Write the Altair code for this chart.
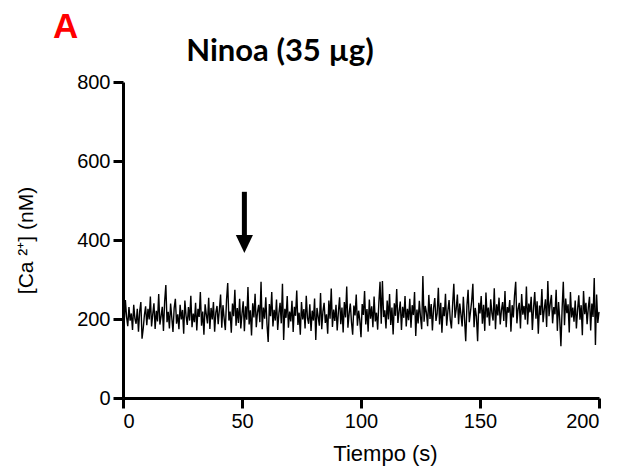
import altair as alt
import pandas as pd

# Cytosolic calcium trace, sampled every 0.5 s from 0 to 200 s
step_s = 0.5
calcium_nM = [
    225, 190, 248, 205, 182, 230, 196, 214, 172, 236, 201, 188, 226, 168, 219, 243, 150, 176, 210, 232,
    184, 226, 199, 257, 181, 212, 240, 175, 221, 194, 263, 186, 207, 231, 170, 244, 286, 192, 218, 176,
    239, 203, 167, 228, 251, 188, 212, 174, 236, 199, 223, 163, 247, 208, 185, 230, 196, 259, 179, 214,
    192, 241, 171, 226, 205, 268, 183, 219, 160, 237, 211, 189, 254, 175, 228, 199, 243, 168, 216, 233,
    187, 224, 262, 178, 235, 201, 172, 248, 291, 196, 219, 165, 239, 207, 274, 183, 228, 190, 251, 176,
    213, 245, 169, 232, 198, 281, 186, 222, 158, 240, 204, 264, 179, 217, 236, 192, 294, 174, 229, 201,
    255, 186, 142, 238, 207, 268, 181, 223, 196, 249, 172, 214, 241, 189, 289, 147, 226, 203, 258, 178,
    219, 194, 246, 167, 231, 208, 272, 185, 216, 160, 243, 199, 225, 176, 259, 203, 188, 237, 170, 221,
    196, 252, 147, 228, 206, 183, 266, 174, 219, 241, 190, 212, 163, 247, 201, 277, 180, 224, 195, 236,
    171, 218, 255, 187, 229, 166, 243, 204, 282, 178, 213, 239, 192, 160, 234, 209, 262, 183, 221, 197,
    154, 238, 210, 271, 186, 225, 168, 249, 201, 232, 179, 257, 194, 216, 173, 241, 294, 188, 296, 205,
    222, 176, 247, 199, 263, 185, 229, 161, 240, 208, 276, 190, 219, 244, 172, 231, 203, 258, 181, 226,
    197, 251, 178, 235, 210, 268, 157, 224, 189, 246, 205, 174, 309, 193, 233, 216, 182, 261, 200, 238,
    171, 228, 253, 195, 214, 279, 186, 241, 165, 230, 207, 264, 183, 220, 248, 198, 176, 237, 289, 203,
    225, 262, 187, 239, 211, 181, 256, 200, 144, 233, 274, 192, 218, 245, 289, 179, 228, 206, 144, 241,
    214, 258, 188, 236, 170, 267, 204, 229, 183, 250, 215, 196, 278, 174, 237, 209, 254, 186, 222, 243,
    195, 271, 179, 230, 216, 248, 168, 235, 204, 259, 294, 189, 226, 241, 176, 263, 211, 233, 198, 282,
    186, 239, 217, 256, 172, 228, 268, 201, 245, 163, 234, 210, 276, 192, 224, 250, 180, 296, 207, 238,
    261, 189, 230, 212, 274, 170, 243, 199, 131, 226, 294, 184, 252, 215, 237, 166, 268, 204, 229, 193,
    247, 176, 223, 260, 198, 235, 159, 271, 212, 241, 187, 228, 256, 171, 239, 205, 304, 134, 262, 190,
    218,
]
time_s = [i * step_s for i in range(len(calcium_nM))]

x_ticks = [0, 50, 100, 150, 200]
y_ticks = [0, 200, 400, 600, 800]

# Arrow marking the addition of the compound
arrow_time = 51
arrow_shaft_top = 522
arrow_shaft_bottom = 408
arrow_head_center = 390

panel_letter = "A"
panel_title = "Ninoa (35 µg)"

trace = pd.DataFrame({"t": time_s, "ca": calcium_nM})
arrow = pd.DataFrame({
    "t": [arrow_time],
    "top": [arrow_shaft_top],
    "bottom": [arrow_shaft_bottom],
    "head": [arrow_head_center],
})

x_scale = alt.Scale(domain=[0, 200], nice=False)
y_scale = alt.Scale(domain=[0, 800], nice=False)

x_axis = alt.Axis(values=x_ticks, title="Tiempo (s)", titlePadding=12,
                  titleFontSize=22, titleX=262)
y_axis = alt.Axis(values=y_ticks, title="[Ca ²⁺] (nM)", titlePadding=40,
                  titleFontSize=21)

line = alt.Chart(trace).mark_line(color="black", strokeWidth=1.4).encode(
    x=alt.X("t:Q", scale=x_scale, axis=x_axis),
    y=alt.Y("ca:Q", scale=y_scale, axis=y_axis),
)

shaft = alt.Chart(arrow).mark_rule(color="black", strokeWidth=5).encode(
    x="t:Q", y="top:Q", y2="bottom:Q"
)

head = alt.Chart(arrow).mark_point(
    shape="M-0.95,-1L0.95,-1L0,1Z", filled=True, color="black", opacity=1, size=324
).encode(x="t:Q", y="head:Q")

title_text = alt.Chart(pd.DataFrame({"label": [panel_title]})).mark_text(
    font="Lato", fontSize=31, fontWeight="bold", color="black", align="center", baseline="alphabetic"
).encode(x=alt.value(157), y=alt.value(-21), text="label:N")

letter_text = alt.Chart(pd.DataFrame({"label": [panel_letter]})).mark_text(
    font="Liberation Sans", fontSize=35, fontWeight="bold", color="#ff0000", align="left", baseline="alphabetic"
).encode(x=alt.value(-70), y=alt.value(-44), text="label:N")

chart = alt.layer(line, shaft, head, title_text, letter_text).properties(
    width=476,
    height=316,
    autosize="none",
    padding={"left": 123, "top": 82, "right": 22, "bottom": 73},
    background="white",
).configure_view(stroke=None).configure_axis(
    grid=False,
    domainColor="black",
    domainWidth=3,
    tickColor="black",
    tickWidth=3,
    tickSize=10,
    labelFont="Liberation Sans",
    labelFontSize=20,
    labelColor="black",
    labelPadding=3,
    titleFont="Liberation Sans",
    titleFontSize=20,
    titleFontWeight="normal",
    titleColor="black",
)

chart.save("out.html", embed_options={"renderer": "svg", "actions": False})
